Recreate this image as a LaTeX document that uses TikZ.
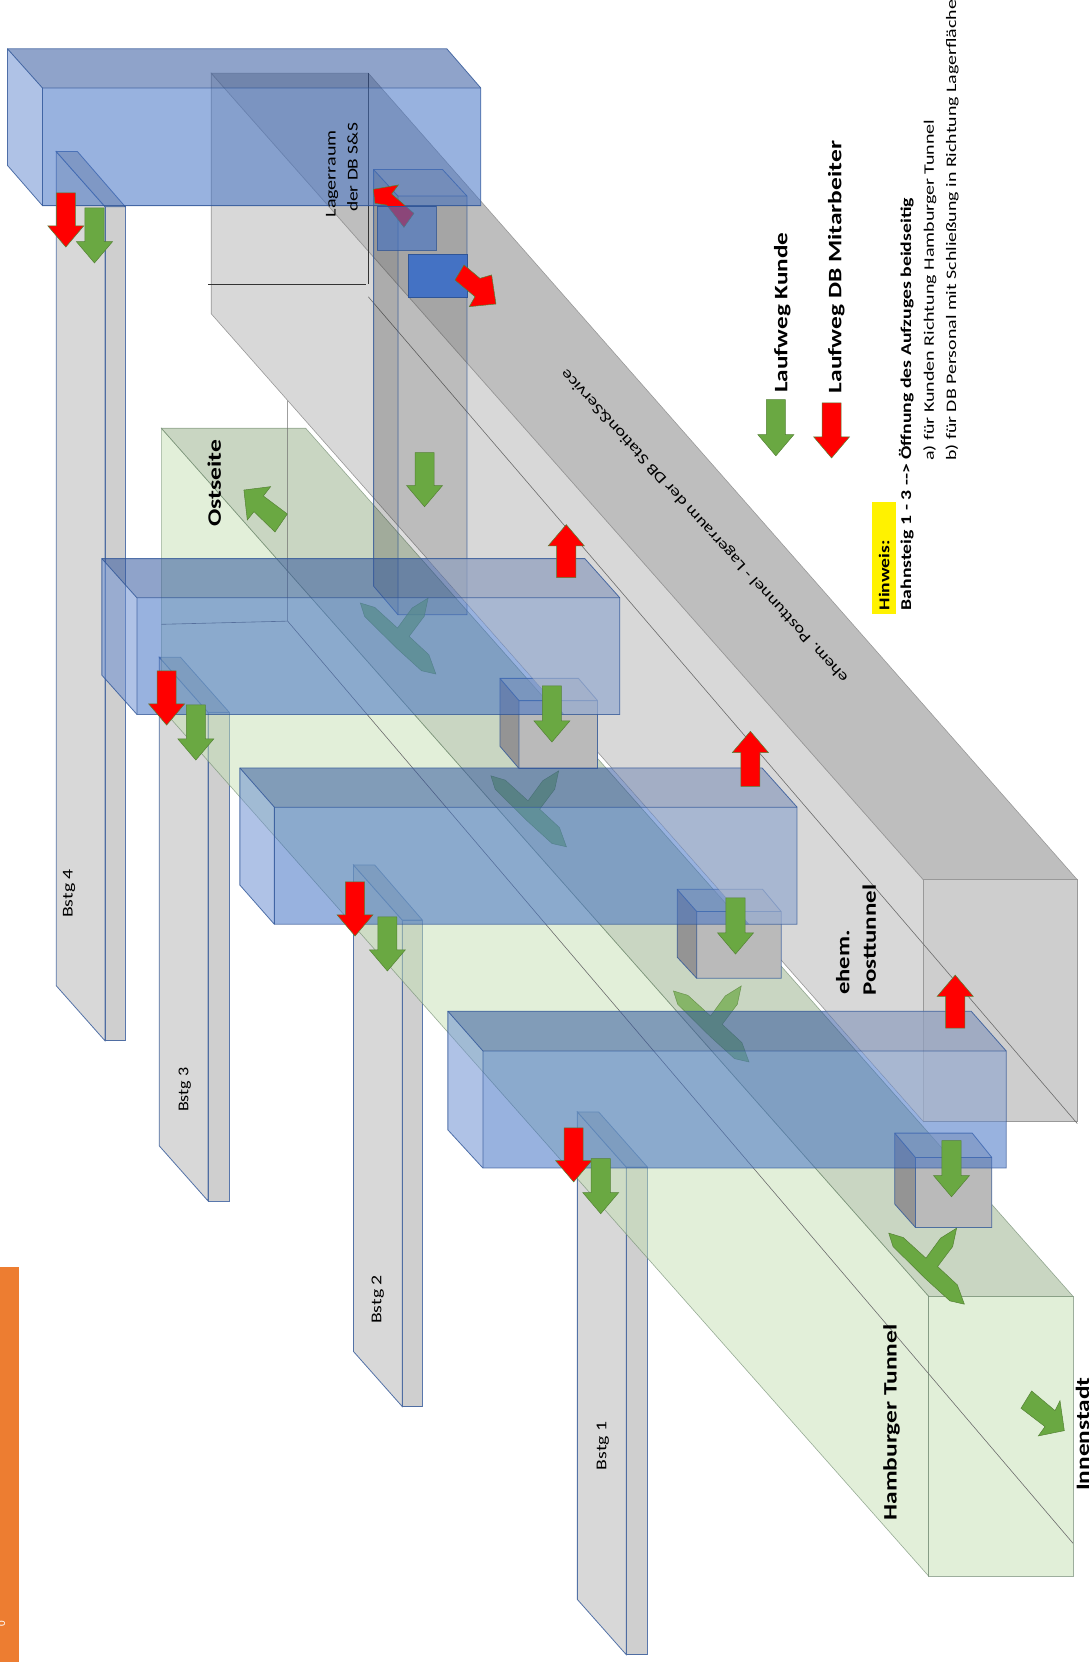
\documentclass[tikz,border=0pt]{standalone}
\usepackage{graphicx}
\usepackage{fontspec}
\setmainfont{Carlito}
\definecolor{gLeft}{HTML}{C5E0B4}
\definecolor{gTop}{HTML}{94AD85}
\definecolor{tuLeft}{HTML}{D8D8D8}
\definecolor{tuTop}{HTML}{BEBEBE}
\definecolor{tuFront}{HTML}{CECECE}
\definecolor{bFront}{HTML}{4472C4}
\definecolor{bTop}{HTML}{33579E}
\definecolor{bLeft}{HTML}{6D90D1}
\definecolor{bEdge}{HTML}{2F5597}
\definecolor{aGreen}{HTML}{6AA842}
\definecolor{aGreenE}{HTML}{548235}
\definecolor{barOrange}{HTML}{ED7D31}
\newcommand\fit[2]{\resizebox{\dimexpr 1.06pt*#1\relax}{\height}{#2}}
\tikzset{
  gfill/.style={fill opacity=.5,draw opacity=.7,draw=gray!90!green,line width=.6pt},
  tuline/.style={draw=gray!85!black,line width=.6pt},
  blueline/.style={draw=bEdge,draw opacity=.8,line width=.8pt},
  thinblack/.style={draw=black!80,line width=.7pt},
  label/.style={rotate=90,inner sep=0pt,text=black},
  boldlabel/.style={label,font=\fontsize{19}{19}\selectfont\bfseries},
  steglabel/.style={label,font=\fontsize{15}{15}\selectfont},
  notelabel/.style={label,font=\fontsize{14.5}{15}\selectfont},
  redarrow/.style={fill=red,draw=aGreenE,line width=.5pt},
  greenarrow/.style={fill=aGreen,draw=aGreenE,line width=.5pt},
}
\newcommand\platform[7]{%
  \fill[fill=tuLeft,blueline] (#1,#4)--(#2,#5)--(#2,#7)--(#1,#6)--cycle;
  \fill[fill=black!19,blueline] (#2,#5)--(#3,#5)--(#3,#7)--(#2,#7)--cycle;
  \fill[fill=black!22,blueline] (#1,#4)--(#1+20,#4)--(#3,#5)--(#2,#5)--cycle;
}
\newcommand\overlayshape{(199,69)--(870,830)--(870,1058)--(199,296)--cycle (870,830)--(1015,830)--(1015,1058)--(870,1058)--cycle}
\newcommand\bluebox[9]{%
  \fill[bLeft,fill opacity=.55] (#1,#5)--(#2,#6)--(#2,#7)--(#1,#8)--cycle;
  \fill[bTop,fill opacity=.55] (#1,#5)--(#4,#5)--(#3,#6)--(#2,#6)--cycle;
  \fill[bFront,fill opacity=.55] (#2,#6)--(#3,#6)--(#3,#7)--(#2,#7)--cycle;
  \ifnum#9=1
  \begin{scope}
    \clip (#1,#5)--(#4,#5)--(#3,#6)--(#3,#7)--(#2,#7)--(#1,#8)--cycle;
    \fill[tuLeft,fill opacity=.42] \overlayshape;
  \end{scope}
  \fi
  \draw[blueline] (#1,#5)--(#4,#5)--(#3,#6)--(#3,#7)--(#2,#7)--(#1,#8)--cycle;
  \draw[blueline] (#1,#5)--(#2,#6)--(#3,#6) (#2,#6)--(#2,#7);
}
\newcommand\elevbox[8]{%
  \fill[fill=black!42] (#1,#5)--(#2,#6)--(#2,#7)--(#1,#8)--cycle;
  \fill[fill=black!30,fill opacity=.55] (#1,#5)--(#4,#5)--(#3,#6)--(#2,#6)--cycle;
  \fill[fill=black!27] (#2,#6)--(#3,#6)--(#3,#7)--(#2,#7)--cycle;
  \draw[blueline] (#1,#5)--(#4,#5)--(#3,#6)--(#3,#7)--(#2,#7)--(#1,#8)--cycle;
  \draw[blueline] (#1,#5)--(#2,#6)--(#3,#6) (#2,#6)--(#2,#7);
}
\newcommand\blockarrow[5]{%
  \begin{scope}[shift={(#2,#3)},rotate=#4]
    \filldraw[#1] (0,-9)--(#5-20,-9)--(#5-20,-17)--(#5,0)--(#5-20,17)--(#5-20,9)--(0,9)--cycle;
  \end{scope}
}
\newcommand\forkarrow[3]{%
  \begin{scope}[shift={(#1,#2)}]
    \filldraw[greenarrow,fill opacity=#3,draw opacity=#3]
      (-35,-23.6)--(-21.4,-19.5)--(0,0)--(13.8,-18.9)--(28.9,-28.3)--(25.2,-11)--(11,7.9)--(29.6,25.2)--(36.2,43.4)--(22.6,40.3)--(-0.9,18.9)--(-31,-11)--cycle;
  \end{scope}
}
\begin{document}
\begin{tikzpicture}[x=1.0614pt,y=-1.06pt]
\useasboundingbox (0,0) rectangle (1026,1568);
% orange bar
\fill[barOrange] (0,1195) rectangle (18,1568);
\node[label,text=white,font=\fontsize{11}{11}\selectfont] (pagenum) at (1.5,1532) {0};

% platforms
\platform{53}{99}{118}{143}{195}{930}{982}
\platform{150}{196}{216}{620}{672}{1081}{1133}
\platform{333}{379}{398}{816}{868}{1275}{1327}
\platform{544}{590}{610}{1049}{1101}{1509}{1561}

% Hamburger Tunnel (green)
\filldraw[fill=gLeft,gfill] (152,404)--(875,1223)--(875,1487)--(152,668)--cycle;
\filldraw[fill=gTop,gfill] (152,404)--(288,404)--(1011,1223)--(875,1223)--cycle;
\filldraw[fill=gLeft,gfill,fill opacity=.52] (875,1223)--(1011,1223)--(1011,1487)--(875,1487)--cycle;
\draw[tuline] (271,373)--(271,586)--(1011,1456);
\draw[tuline] (152,589)--(271,586);

% ehem. Posttunnel (grey)
\filldraw[fill=tuLeft,tuline,draw=black!40] (199,69)--(870,830)--(870,1058)--(199,296)--cycle;
\filldraw[fill=tuTop,tuline,draw=black!40] (199,69)--(347,69)--(1015,830)--(870,830)--cycle;
\filldraw[fill=tuFront,tuline,draw=black!40] (870,830)--(1015,830)--(1015,1058)--(870,1058)--cycle;
\draw[tuline] (347,280)--(1015,1060);
\draw[thinblack] (347,69)--(347,268);
\draw[thinblack,line width=1.1pt] (196,268)--(345,268);

% shaft to store
\fill[black,fill opacity=.2] (352,160)--(375,185)--(375,580)--(352,553)--cycle;
\fill[black,fill opacity=.08] (352,160)--(417,160)--(440,185)--(375,185)--cycle;
\fill[black,fill opacity=.13] (375,185)--(440,185)--(440,580)--(375,580)--cycle;
\draw[blueline] (352,160)--(417,160)--(440,185)--(440,580)--(375,580)--(352,553)--cycle;
\draw[blueline] (352,160)--(375,185)--(440,185) (375,185)--(375,580);

% forked arrows
\forkarrow{374.5}{592.5}{.7}
\forkarrow{497.5}{755.5}{.7}
\forkarrow{669.5}{958.5}{.7}
\forkarrow{872.4}{1187}{1}

% elevators
\elevbox{471}{489}{563}{545}{640}{661}{725}{704}
\elevbox{638}{656.5}{736}{718.5}{839}{860}{923}{903}
\elevbox{843}{862.5}{934.5}{916}{1069}{1092}{1158}{1136}

% blue halls
\bluebox{96}{129}{584}{551}{527}{564}{674}{637}{1}
\bluebox{226}{258.5}{751}{718}{724.5}{761.5}{872}{835}{1}
\bluebox{422}{455}{948}{915}{954}{991.5}{1102}{1066}{1}
\bluebox{7}{40}{453}{421}{46}{83}{194}{156}{0}

% store boxes
\filldraw[redarrow] (351.8,178.6)--(375.3,174.5)--(369,183)--(390,201.3)--(380.6,214.5)--(364.3,193.4)--(353.3,191.8)--cycle;
\fill[bFront,fill opacity=.62] (355.5,195) rectangle (411,236);
\draw[blueline] (355.5,195) rectangle (411,236);
\draw[blueline,line width=1.6pt] (355.5,195)--(411,195);
\filldraw[fill=bFront,blueline,draw opacity=1] (385,240) rectangle (440.5,280.5);
\draw[blueline,draw opacity=1,line width=1.6pt] (385,240)--(440.5,240);
\filldraw[redarrow] (428.7,264.2)--(437.2,250)--(452.2,262.6)--(463.2,259.4)--(467.3,286.8)--(442.2,289.3)--(447.5,279.9)--cycle;

% arrows
\blockarrow{redarrow}{62}{182}{-90}{51}
\blockarrow{greenarrow}{89}{196}{-90}{52}
\blockarrow{redarrow}{157}{633}{-90}{51}
\blockarrow{greenarrow}{184.5}{665}{-90}{52}
\blockarrow{redarrow}{334.5}{832}{-90}{51}
\blockarrow{greenarrow}{365}{865}{-90}{51}
\blockarrow{redarrow}{540.5}{1064}{-90}{51}
\blockarrow{greenarrow}{566}{1093}{-90}{52}
\blockarrow{greenarrow}{400}{427}{-90}{51}
\blockarrow{greenarrow}{520}{647}{-90}{53}
\blockarrow{greenarrow}{693}{847}{-90}{53}
\blockarrow{greenarrow}{896.5}{1076}{-90}{53}
\blockarrow{redarrow}{533.5}{545}{90}{50}
\blockarrow{redarrow}{707}{742}{90}{52}
\blockarrow{redarrow}{900}{970}{90}{50}
\filldraw[greenarrow] (229.8,462.3)--(255,459.1)--(248.1,467.9)--(270.7,484.9)--(259.1,501.9)--(239.3,482.7)--(233,490.6)--cycle;
\filldraw[greenarrow] (972,1312.3)--(994,1330.8)--(998.7,1321.4)--(1002.8,1349.7)--(978.3,1354.7)--(984.6,1345.9)--(962,1328.6)--cycle;
\blockarrow{greenarrow}{731}{377}{-90}{53}
\blockarrow{redarrow}{783.5}{380}{-90}{52}

% texts
\node[steglabel] (b4) at (65,843) {\fit{46}{Bstg 4}};
\node[steglabel] (b3) at (174,1028) {\fit{42}{Bstg 3}};
\node[steglabel] (b2) at (356,1226) {\fit{46}{Bstg 2}};
\node[steglabel] (b1) at (568,1364) {\fit{46}{Bstg 1}};
\node[steglabel] (lager1) at (313,164) {\fit{82}{Lagerraum}};
\node[steglabel] (lager2) at (332,158) {\fit{84}{der DB S\&S}};
\node[boldlabel] (ost) at (202,456) {\fit{82}{Ostseite}};
\node[boldlabel] (lk) at (737,295) {\fit{151}{Laufweg Kunde}};
\node[boldlabel] (lm) at (788,252) {\fit{238}{Laufweg DB Mitarbeiter}};
\node[boldlabel] (eh1) at (794,908) {\fit{61}{ehem.}};
\node[boldlabel] (eh2) at (819,887) {\fit{105}{Posttunnel}};
\node[boldlabel] (hh) at (840,1342) {\fit{185}{Hamburger Tunnel}};
\node[boldlabel] (inn) at (1020,1353) {\fit{107}{Innenstadt}};
\node[inner sep=0pt,rotate=132.3,font=\fontsize{15}{15}\selectfont] (band) at (664,496) {\fit{395}{ehem. Posttunnel - Lagerraum der DB Station\&Service}};
\fill[yellow] (822,474) rectangle (844,579);
\node[notelabel,font=\fontsize{15}{15}\selectfont\bfseries,anchor=west] (hw) at (833,576) {\fit{66}{Hinweis:}};
\node[notelabel,font=\fontsize{15}{15}\selectfont\bfseries,anchor=west] (n0) at (854,576) {\fit{389}{Bahnsteig 1 - 3 -{}-> Öffnung des Aufzuges beidseitig}};
\node[notelabel,anchor=west] (n1) at (876,435) {\fit{322}{a) für Kunden Richtung Hamburger Tunnel}};
\node[notelabel,anchor=west] (n2) at (897,435) {\fit{435}{b) für DB Personal mit Schließung in Richtung Lagerfläche}};
\end{tikzpicture}
\end{document}
